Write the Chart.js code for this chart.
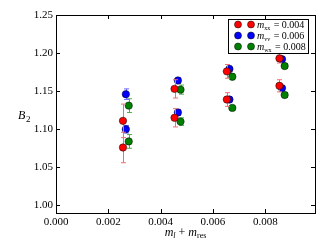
<!DOCTYPE html>
<html>
<head>
<meta charset="utf-8">
<script src="https://cdn.jsdelivr.net/npm/chart.js@4/dist/chart.umd.min.js"></script>
<style>
  html, body { margin: 0; padding: 0; background: #fff; }
  canvas { display: block; }
</style>
</head>
<body>
<canvas id="c" width="332" height="249"></canvas>
<script>
// B2 vs m_l + m_res, three valence masses

const xTicks = [0.000, 0.002, 0.004, 0.006, 0.008];
const yTicks = [1.00, 1.05, 1.10, 1.15, 1.20, 1.25];

const legendLabels = ["0.004", "0.006", "0.008"];
const legendSubs = ["xx", "vv", "wx"];

// red (0.004)
const xRed = [0.00256, 0.00256, 0.00453, 0.00453, 0.00653, 0.00653, 0.00854, 0.00854];
const yRed = [1.111, 1.076, 1.153, 1.115, 1.176, 1.139, 1.193, 1.157];
const eRed = [0.022, 0.020, 0.012, 0.012, 0.009, 0.009, 0.006, 0.008];

// blue (0.006)
const xBlue = [0.00267, 0.00267, 0.00466, 0.00466, 0.00663, 0.00663, 0.00864, 0.00864];
const yBlue = [1.146, 1.100, 1.164, 1.122, 1.179, 1.139, 1.192, 1.154];
const eBlue = [0.007, 0.005, 0.004, 0.004, 0.004, 0.004, 0.003, 0.003];

// green (0.008)
const xGreen = [0.00278, 0.00278, 0.00476, 0.00476, 0.00674, 0.00674, 0.00874, 0.00874];
const yGreen = [1.131, 1.084, 1.152, 1.110, 1.169, 1.128, 1.183, 1.145];
const eGreen = [0.009, 0.009, 0.006, 0.005, 0.004, 0.003, 0.003, 0.003];

const markerColors = ["#ff0000", "#0000ff", "#008000"];
const barColors = ["#f07070", "#7070ff", "#50b050"];

const SERIF = "'Liberation Serif', 'DejaVu Serif', serif";

function pts(xs, ys, es) {
  return xs.map((x, i) => ({ x: x, y: ys[i], e: es[i] }));
}

function ds(label, data, color) {
  return {
    label: label,
    data: data,
    pointRadius: 3.7,
    pointHoverRadius: 3.7,
    pointBackgroundColor: color,
    pointBorderColor: "#000",
    pointBorderWidth: 0.5,
    showLine: false,
  };
}

// error bars drawn under each dataset's markers
const errorBars = {
  id: "errorBars",
  beforeDatasetDraw(chart, args) {
    const d = chart.data.datasets[args.index];
    const xs = chart.scales.x, ys = chart.scales.y;
    const ctx = chart.ctx;
    ctx.save();
    ctx.strokeStyle = barColors[args.index];
    ctx.lineWidth = 1;
    d.data.forEach(p => {
      const px = Math.round(xs.getPixelForValue(p.x)) + 0.5;
      const top = ys.getPixelForValue(p.y + p.e);
      const bot = ys.getPixelForValue(p.y - p.e);
      ctx.beginPath();
      ctx.moveTo(px, top); ctx.lineTo(px, bot);
      ctx.moveTo(px - 2.5, top); ctx.lineTo(px + 2.5, top);
      ctx.moveTo(px - 2.5, bot); ctx.lineTo(px + 2.5, bot);
      ctx.stroke();
    });
    ctx.restore();
  },
};

// frame, inward ticks, axis titles, legend
const decor = {
  id: "decor",
  afterDraw(chart) {
    const ctx = chart.ctx;
    const a = chart.chartArea;
    const xs = chart.scales.x, ys = chart.scales.y;
    ctx.save();
    ctx.strokeStyle = "#000";
    ctx.lineWidth = 1;
    ctx.strokeRect(Math.round(a.left) + 0.5, Math.round(a.top) + 0.5,
      Math.round(a.right - a.left), Math.round(a.bottom - a.top));

    ctx.beginPath();
    xTicks.forEach(v => {
      const px = Math.round(xs.getPixelForValue(v)) + 0.5;
      ctx.moveTo(px, a.bottom); ctx.lineTo(px, a.bottom - 4);
      ctx.moveTo(px, a.top); ctx.lineTo(px, a.top + 4);
    });
    yTicks.forEach(v => {
      const py = Math.round(ys.getPixelForValue(v)) + 0.5;
      ctx.moveTo(a.left, py); ctx.lineTo(a.left + 4, py);
      ctx.moveTo(a.right, py); ctx.lineTo(a.right - 4, py);
    });
    ctx.stroke();

    ctx.fillStyle = "#000";
    ctx.textBaseline = "alphabetic";

    // y title: B_2
    ctx.font = "italic 12px " + SERIF;
    ctx.textAlign = "left";
    ctx.fillText("B", 18, 119);
    ctx.font = "9px " + SERIF;
    ctx.fillText("2", 26, 122);

    // x title: m_l + m_res
    const cx = (a.left + a.right) / 2;
    const parts = [
      { t: "m", f: "italic 12px " + SERIF, dy: 0 },
      { t: "l", f: "italic 8px " + SERIF, dy: 2 },
      { t: " + ", f: "12px " + SERIF, dy: 0 },
      { t: "m", f: "italic 12px " + SERIF, dy: 0 },
      { t: "res", f: "8px " + SERIF, dy: 2 },
    ];
    let w = 0;
    parts.forEach(p => { ctx.font = p.f; w += ctx.measureText(p.t).width; });
    let x = cx - w / 2;
    parts.forEach(p => {
      ctx.font = p.f;
      ctx.fillText(p.t, x, 236 + p.dy);
      x += ctx.measureText(p.t).width;
    });

    // legend
    ctx.fillStyle = "#fff";
    ctx.fillRect(228, 19, 80, 34);
    ctx.strokeStyle = "#000";
    ctx.strokeRect(228.5, 19.5, 80, 34);
    markerColors.forEach((c, i) => {
      const ry = 24.5 + i * 11;
      [238, 251].forEach(mx => {
        ctx.beginPath();
        ctx.arc(mx, ry, 3.5, 0, Math.PI * 2);
        ctx.fillStyle = c;
        ctx.fill();
        ctx.lineWidth = 0.5;
        ctx.strokeStyle = "#000";
        ctx.stroke();
      });
      ctx.fillStyle = "#000";
      let lx = 257;
      ctx.font = "italic 10px " + SERIF;
      ctx.fillText("m", lx, ry + 3.5);
      lx += ctx.measureText("m").width;
      ctx.font = "6px " + SERIF;
      ctx.fillText(legendSubs[i], lx, ry + 5);
      lx += ctx.measureText(legendSubs[i]).width + 1;
      ctx.font = "10px " + SERIF;
      ctx.fillText(" = " + legendLabels[i], lx, ry + 3.5);
    });
    ctx.restore();
  },
};

new Chart(document.getElementById("c"), {
  type: "scatter",
  data: {
    datasets: [
      ds("0.004", pts(xRed, yRed, eRed), markerColors[0]),
      ds("0.006", pts(xBlue, yBlue, eBlue), markerColors[1]),
      ds("0.008", pts(xGreen, yGreen, eGreen), markerColors[2]),
    ],
  },
  options: {
    responsive: false,
    animation: false,
    devicePixelRatio: 1,
    layout: { padding: { left: 0, right: 17, top: 15, bottom: 0 } },
    plugins: { legend: { display: false }, tooltip: { enabled: false } },
    scales: {
      x: {
        type: "linear",
        min: 0,
        max: 0.0099,
        grid: { display: false, drawTicks: false, tickLength: 0 },
        border: { display: false },
        afterBuildTicks: s => { s.ticks = xTicks.map(v => ({ value: v })); },
        afterFit: s => { s.height = 36; },
        ticks: {
          padding: 3,
          color: "#000",
          font: { family: SERIF, size: 11 },
          maxRotation: 0,
          callback: v => Number(v).toFixed(3),
        },
      },
      y: {
        type: "linear",
        min: 0.99,
        max: 1.25,
        grid: { display: false, drawTicks: false, tickLength: 0 },
        border: { display: false },
        afterBuildTicks: s => { s.ticks = yTicks.map(v => ({ value: v })); },
        afterFit: s => { s.width = 56; },
        ticks: {
          padding: 3,
          color: "#000",
          font: { family: SERIF, size: 11 },
          callback: v => Number(v).toFixed(2),
        },
      },
    },
  },
  plugins: [errorBars, decor],
});
</script>
</body>
</html>
